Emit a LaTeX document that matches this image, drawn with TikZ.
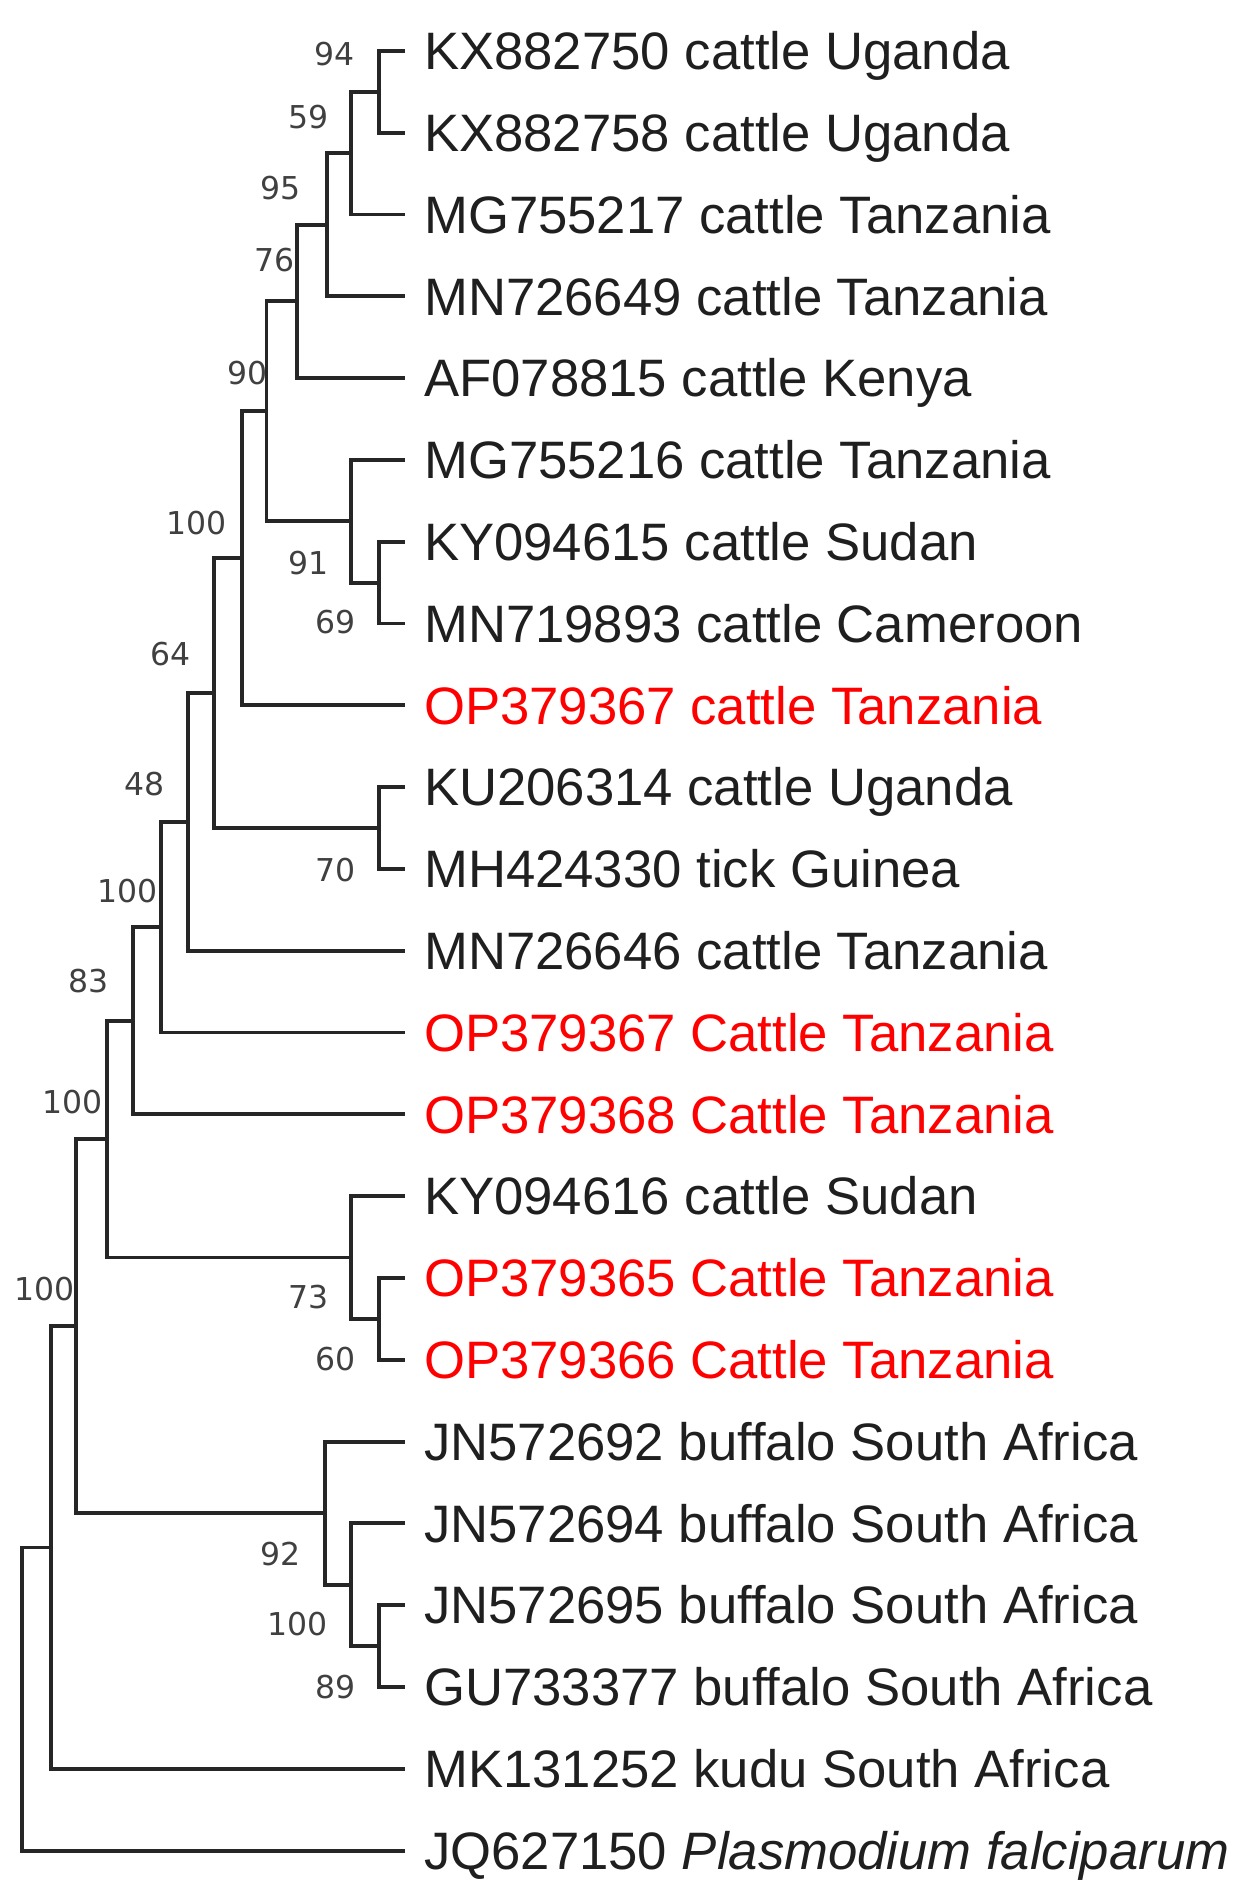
\documentclass[tikz,border=0pt]{standalone}
\usepackage{fontspec}
\setmainfont{Liberation Sans}
\newfontfamily\bsfont{DejaVu Sans}
\begin{document}
\begin{tikzpicture}[x=1pt,y=-1pt,
  br/.style={draw=black!85,line width=3.2pt,line join=miter,line cap=rect},
  leaf/.style={anchor=base west,inner sep=0pt,font=\fontsize{43.5}{50}\selectfont,text=black!88},
  redleaf/.style={leaf,text=red},
  bs/.style={anchor=center,inner sep=0pt,font=\bsfont\fontsize{26}{30}\selectfont,text=black!75}]
\useasboundingbox (0,0) rectangle (1035,1568);
% leaf tips
\coordinate (t1) at (333,42);
\coordinate (t2) at (333,109.5);
\coordinate (t3) at (333,177.1);
\coordinate (t4) at (333,244.6);
\coordinate (t5) at (333,312.2);
\coordinate (t6) at (333,379.7);
\coordinate (t7) at (333,447.3);
\coordinate (t8) at (333,514.8);
\coordinate (t9) at (333,582.4);
\coordinate (t10) at (333,649.9);
\coordinate (t11) at (333,717.5);
\coordinate (t12) at (333,785.0);
\coordinate (t13) at (333,852.5);
\coordinate (t14) at (333,920.1);
\coordinate (t15) at (333,987.6);
\coordinate (t16) at (333,1055.2);
\coordinate (t17) at (333,1122.7);
\coordinate (t18) at (333,1190.3);
\coordinate (t19) at (333,1257.8);
\coordinate (t20) at (333,1325.4);
\coordinate (t21) at (333,1392.9);
\coordinate (t22) at (333,1460.5);
\coordinate (t23) at (333,1528);
% internal nodes
\coordinate (a) at (313,75.75);
\coordinate (b) at (290,126.4);
\coordinate (c) at (270,185.5);
\coordinate (d) at (245,248.85);
\coordinate (e) at (313,481.05);
\coordinate (f) at (290,430.4);
\coordinate (g) at (220,339.6);
\coordinate (h) at (200,461);
\coordinate (i) at (313,683.7);
\coordinate (j) at (177,572.35);
\coordinate (k) at (155,678.7);
\coordinate (l) at (133,765.6);
\coordinate (m) at (110,842.85);
\coordinate (n) at (313,1088.95);
\coordinate (o) at (290,1038.3);
\coordinate (p) at (88,940.6);
\coordinate (q) at (313,1359.15);
\coordinate (r) at (290,1308.5);
\coordinate (s) at (268,1249.4);
\coordinate (tt) at (63,1095);
\coordinate (u) at (42,1277.75);
\coordinate (root) at (18,1402.9);
% branches
\draw[br] (a) |- (t1); \draw[br] (a) |- (t2);
\draw[br] (b) |- (a); \draw[br] (b) |- (t3);
\draw[br] (c) |- (b); \draw[br] (c) |- (t4);
\draw[br] (d) |- (c); \draw[br] (d) |- (t5);
\draw[br] (e) |- (t7); \draw[br] (e) |- (t8);
\draw[br] (f) |- (t6); \draw[br] (f) |- (e);
\draw[br] (g) |- (d); \draw[br] (g) |- (f);
\draw[br] (h) |- (g); \draw[br] (h) |- (t9);
\draw[br] (i) |- (t10); \draw[br] (i) |- (t11);
\draw[br] (j) |- (h); \draw[br] (j) |- (i);
\draw[br] (k) |- (j); \draw[br] (k) |- (t12);
\draw[br] (l) |- (k); \draw[br] (l) |- (t13);
\draw[br] (m) |- (l); \draw[br] (m) |- (t14);
\draw[br] (n) |- (t16); \draw[br] (n) |- (t17);
\draw[br] (o) |- (t15); \draw[br] (o) |- (n);
\draw[br] (p) |- (m); \draw[br] (p) |- (o);
\draw[br] (q) |- (t20); \draw[br] (q) |- (t21);
\draw[br] (r) |- (t19); \draw[br] (r) |- (q);
\draw[br] (s) |- (t18); \draw[br] (s) |- (r);
\draw[br] (tt) |- (p); \draw[br] (tt) |- (s);
\draw[br] (u) |- (tt); \draw[br] (u) |- (t22);
\draw[br] (root) |- (u); \draw[br] (root) |- (t23);
% leaf labels
\node[leaf] (L1) at (350,57.5) {KX882750 cattle Uganda};
\node[leaf] (L2) at (350,125) {KX882758 cattle Uganda};
\node[leaf] (L3) at (350,192.6) {MG755217 cattle Tanzania};
\node[leaf] (L4) at (350,260.1) {MN726649 cattle Tanzania};
\node[leaf] (L5) at (350,327.7) {AF078815 cattle Kenya};
\node[leaf] (L6) at (350,395.2) {MG755216 cattle Tanzania};
\node[leaf] (L7) at (350,462.8) {KY094615 cattle Sudan};
\node[leaf] (L8) at (350,530.3) {MN719893 cattle Cameroon};
\node[redleaf] (L9) at (350,597.9) {OP379367 cattle Tanzania};
\node[leaf] (L10) at (350,665.4) {KU206314 cattle Uganda};
\node[leaf] (L11) at (350,733) {MH424330 tick Guinea};
\node[leaf] (L12) at (350,800.5) {MN726646 cattle Tanzania};
\node[redleaf] (L13) at (350,868) {OP379367 Cattle Tanzania};
\node[redleaf] (L14) at (350,935.6) {OP379368 Cattle Tanzania};
\node[leaf] (L15) at (350,1003.1) {KY094616 cattle Sudan};
\node[redleaf] (L16) at (350,1070.7) {OP379365 Cattle Tanzania};
\node[redleaf] (L17) at (350,1138.2) {OP379366 Cattle Tanzania};
\node[leaf] (L18) at (350,1205.8) {JN572692 buffalo South Africa};
\node[leaf] (L19) at (350,1273.3) {JN572694 buffalo South Africa};
\node[leaf] (L20) at (350,1340.9) {JN572695 buffalo South Africa};
\node[leaf] (L21) at (350,1408.4) {GU733377 buffalo South Africa};
\node[leaf] (L22) at (350,1476) {MK131252 kudu South Africa};
\node[leaf] (L23) at (350,1543.5) {JQ627150 \textit{Plasmodium falciparum}};
% bootstrap values
\node[bs] (b94) at (276,45) {94};
\node[bs] (b59) at (255,97) {59};
\node[bs] (b95) at (232,155) {95};
\node[bs] (b76) at (227,215) {76};
\node[bs] (b90) at (204,308) {90};
\node[bs] (b100a) at (162,432) {100};
\node[bs] (b91) at (255,465) {91};
\node[bs] (b69) at (277,514) {69};
\node[bs] (b64) at (141,540) {64};
\node[bs] (b48) at (119,647) {48};
\node[bs] (b70) at (277,718) {70};
\node[bs] (b100b) at (105,736) {100};
\node[bs] (b83) at (73,810) {83};
\node[bs] (b100c) at (60,910) {100};
\node[bs] (b100d) at (37,1064) {100};
\node[bs] (b73) at (255,1071) {73};
\node[bs] (b60) at (277,1122) {60};
\node[bs] (b92) at (232,1283) {92};
\node[bs] (b100e) at (246,1341) {100};
\node[bs] (b89) at (277,1393) {89};
\end{tikzpicture}
\end{document}
